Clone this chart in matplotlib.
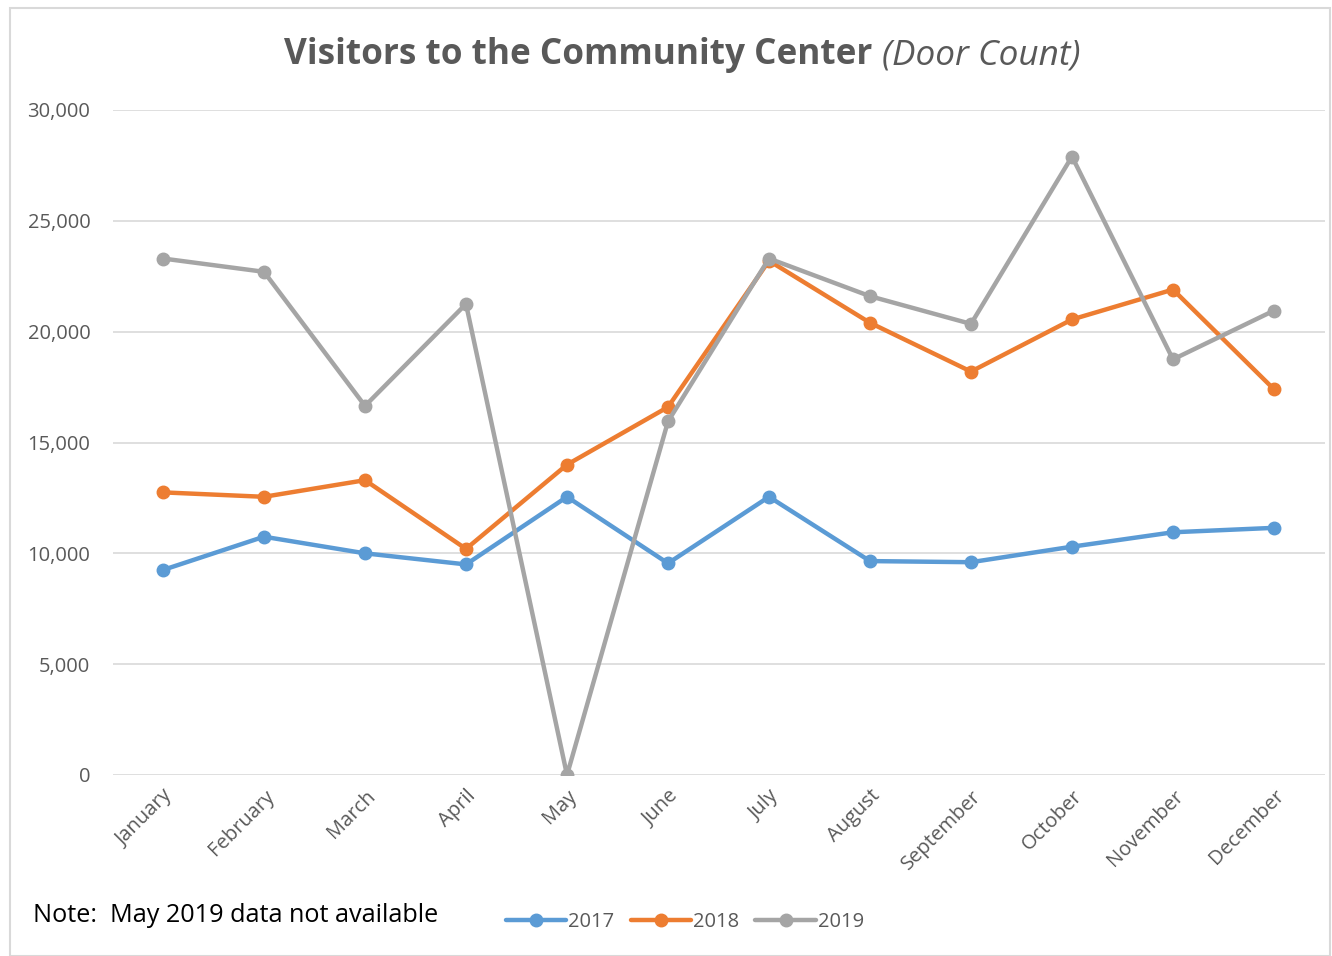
import matplotlib.pyplot as plt
from matplotlib.patches import Rectangle
from matplotlib.ticker import FuncFormatter

# Monthly door counts
months = ['January', 'February', 'March', 'April', 'May', 'June', 'July',
          'August', 'September', 'October', 'November', 'December']
visitors_2017 = [9250, 10750, 10000, 9500, 12550, 9550, 12550, 9650, 9600, 10300, 10950, 11150]
visitors_2018 = [12750, 12550, 13300, 10200, 14000, 16600, 23200, 20400, 18200, 20550, 21900, 17400]
visitors_2019 = [23300, 22700, 16650, 21250, 0, 15950, 23300, 21600, 20350, 27900, 18750, 20950]

plt.rcParams['font.family'] = ['Open Sans', 'DejaVu Sans']

fig = plt.figure(figsize=(13.32, 9.56), dpi=100)
ax = fig.add_axes([112.5 / 1332, 1 - 775 / 956, 1212 / 1332, 665 / 956])

series = [(visitors_2017, '2017', '#5B9BD5'),
          (visitors_2018, '2018', '#ED7D31'),
          (visitors_2019, '2019', '#A5A5A5')]
x = range(len(months))
for vals, label, color in series:
    ax.plot(x, vals, color=color, linewidth=3.2, marker='o', markersize=9,
            label=label, solid_capstyle='round')

ax.set_xlim(-0.5, len(months) - 0.5)
ax.set_ylim(0, 30000)
ax.set_yticks(range(0, 30001, 5000))
ax.yaxis.set_major_formatter(FuncFormatter(lambda v, p: f'{int(v):,}'))
ax.grid(axis='y', color='#D9D9D9', linewidth=1.2)
ax.set_axisbelow(True)
for s in ax.spines.values():
    s.set_visible(False)
ax.tick_params(axis='both', length=0, labelsize=14.5, labelcolor='#595959')
ax.tick_params(axis='y', pad=16)
ax.set_xticks(list(x))
ax.set_xticklabels(months, rotation=45, ha='right', rotation_mode='anchor')
ax.tick_params(axis='x', pad=8)

# title: bold part + italic part, centred together
t1 = fig.text(0, 0, 'Visitors to the Community Center ', fontsize=25.3,
              fontweight='bold', color='#595959', va='center')
t2 = fig.text(0, 0, '(Door Count)', fontsize=25.3, fontstyle='italic',
              color='#595959', va='center')
fig.canvas.draw()
r = fig.canvas.get_renderer()
w1 = t1.get_window_extent(r).width
w2 = t2.get_window_extent(r).width
start = 682 - (w1 + w2) / 2
t1.set_position((start / 1332, 1 - 55 / 956))
t2.set_position(((start + w1) / 1332, 1 - 55 / 956))

fig.text(33 / 1332, 1 - 916 / 956, 'Note:  May 2019 data not available',
         fontsize=18.2, color='black', va='center')

fig.legend(loc='center', bbox_to_anchor=(685 / 1332, 1 - 922 / 956), ncol=3,
           frameon=False, fontsize=14.5, handlelength=3, columnspacing=0.8,
           handletextpad=0.1, labelcolor='#595959')

fig.patches.append(Rectangle((10 / 1332, 0), 1320 / 1332, 1 - 8 / 956,
                             transform=fig.transFigure, fill=False,
                             edgecolor='#D9D9D9', linewidth=1.5))

fig.savefig('out.png', dpi=100)
